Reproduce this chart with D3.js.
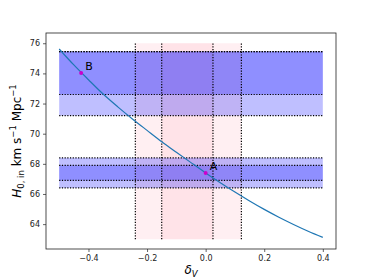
<!DOCTYPE html>
<html>
<head>
<meta charset="utf-8">
<script src="https://cdn.jsdelivr.net/npm/d3@7"></script>
<style>
body { margin: 0; background: #fff; }
svg { display: block; font-family: "DejaVu Sans", sans-serif; }
</style>
</head>
<body>
<svg id="chart"></svg>
<script>
var width = 374;
var height = 280;
var margin = {top: 33, right: 38, bottom: 31, left: 46};

// curve H0,in vs delta_V
var deltaV = [-0.50, -0.45, -0.40, -0.35, -0.30, -0.25, -0.20, -0.15, -0.10, -0.05,
	0.00, 0.05, 0.10, 0.15, 0.20, 0.25, 0.30, 0.35, 0.40];
var h0in = [75.62, 74.56, 73.58, 72.63, 71.78, 70.98, 70.22, 69.47, 68.77, 68.08,
	67.40, 66.75, 66.13, 65.54, 64.98, 64.46, 63.98, 63.53, 63.12];

// horizontal bands [low, high]
var upperBands = [[71.2, 75.45], [72.6, 75.45]];
var lowerBands = [[66.4, 68.4], [66.9, 67.9]];
var bandSpan = [-0.5, 0.4];

// vertical bands [left, right]
var deltaBands = [[-0.24, 0.122], [-0.15, 0.025]];
var deltaSpan = [63, 76];

// marked points
var pointNames = ["B", "A"];
var pointX = [-0.425, 0.0];
var pointY = [74.03, 67.4];

var xTicks = [-0.4, -0.2, 0.0, 0.2, 0.4];
var yTicks = [64, 66, 68, 70, 72, 74, 76];

var svg = d3.select("#chart")
.attr("width", width)
.attr("height", height);

var x = d3.scaleLinear()
.domain([-0.545, 0.445])
.range([margin.left, width - margin.right]);

var y = d3.scaleLinear()
.domain([62.35, 76.68])
.range([height - margin.bottom, margin.top]);

// pink vertical regions
deltaBands.forEach(function (b) {
	svg.append("rect")
	.attr("x", x(b[0]))
	.attr("y", y(deltaSpan[1]))
	.attr("width", x(b[1]) - x(b[0]))
	.attr("height", y(deltaSpan[0]) - y(deltaSpan[1]))
	.style("fill", "#ffc0cb")
	.style("fill-opacity", 0.25);
});

// blue horizontal regions
upperBands.concat(lowerBands).forEach(function (b) {
	svg.append("rect")
	.attr("x", x(bandSpan[0]))
	.attr("y", y(b[1]))
	.attr("width", x(bandSpan[1]) - x(bandSpan[0]))
	.attr("height", y(b[0]) - y(b[1]))
	.style("fill", "#0000ff")
	.style("fill-opacity", 0.25);
});

var dots = "1.2,1.5";

upperBands.concat(lowerBands).forEach(function (b) {
	b.forEach(function (v) {
		svg.append("line")
		.attr("x1", x(bandSpan[0]))
		.attr("x2", x(bandSpan[1]))
		.attr("y1", y(v))
		.attr("y2", y(v))
		.style("stroke", "#000")
		.style("stroke-width", 1.2)
		.style("stroke-dasharray", dots);
	});
});

deltaBands.forEach(function (b) {
	b.forEach(function (v) {
		svg.append("line")
		.attr("x1", x(v))
		.attr("x2", x(v))
		.attr("y1", y(deltaSpan[0]))
		.attr("y2", y(deltaSpan[1]))
		.style("stroke", "#000")
		.style("stroke-width", 1.2)
		.style("stroke-dasharray", dots);
	});
});

var line = d3.line()
.x(function (d, i) { return x(deltaV[i]); })
.y(function (d) { return y(d); })
.curve(d3.curveMonotoneX);

svg.append("path")
.datum(h0in)
.attr("d", line)
.style("fill", "none")
.style("stroke", "#1f77b4")
.style("stroke-width", 1.2);

pointNames.forEach(function (name, i) {
	svg.append("circle")
	.attr("cx", x(pointX[i]))
	.attr("cy", y(pointY[i]))
	.attr("r", 2)
	.style("fill", "#cc00cc");

	svg.append("text")
	.attr("x", x(pointX[i]) + 4)
	.attr("y", y(pointY[i]) - 3)
	.style("font-size", "11px")
	.text(name);
});

var xAxis = svg.append("g")
.attr("transform", "translate(0," + (height - margin.bottom) + ")")
.call(d3.axisBottom(x).tickValues(xTicks).tickSize(3).tickPadding(3)
	.tickFormat(function (d) { return d3.format(".1f")(d).replace("-", "\u2212"); }));

var yAxis = svg.append("g")
.attr("transform", "translate(" + margin.left + ",0)")
.call(d3.axisLeft(y).tickValues(yTicks).tickSize(3).tickPadding(3));

[xAxis, yAxis].forEach(function (g) {
	g.select(".domain").remove();
	g.selectAll("text")
	.style("font-family", "'DejaVu Sans', sans-serif")
	.style("font-size", "8px")
	.style("fill", "#222");
	g.selectAll("line").style("stroke", "#222").style("stroke-width", 0.7);
});

svg.append("rect")
.attr("x", margin.left)
.attr("y", margin.top)
.attr("width", width - margin.left - margin.right)
.attr("height", height - margin.top - margin.bottom)
.style("fill", "none")
.style("stroke", "#222")
.style("stroke-width", 0.8);

// axis labels
svg.append("text")
.attr("x", (margin.left + width - margin.right) / 2)
.attr("y", 274)
.attr("text-anchor", "middle")
.style("font-size", "12px")
.html("<tspan font-style='italic'>δ</tspan><tspan font-style='italic' font-size='8.5px' dy='3'>V</tspan>");

svg.append("text")
.attr("transform", "translate(21," + ((margin.top + height - margin.bottom) / 2) + ") rotate(-90)")
.attr("text-anchor", "middle")
.style("font-size", "12px")
.html("<tspan font-style='italic'>H</tspan><tspan font-size='8.5px' dy='3'>0, in</tspan>" +
	"<tspan dy='-3'> km s</tspan><tspan font-size='8.5px' dy='-5'>\u22121</tspan>" +
	"<tspan dy='5'> Mpc</tspan><tspan font-size='8.5px' dy='-5'>\u22121</tspan>");
</script>
</body>
</html>
